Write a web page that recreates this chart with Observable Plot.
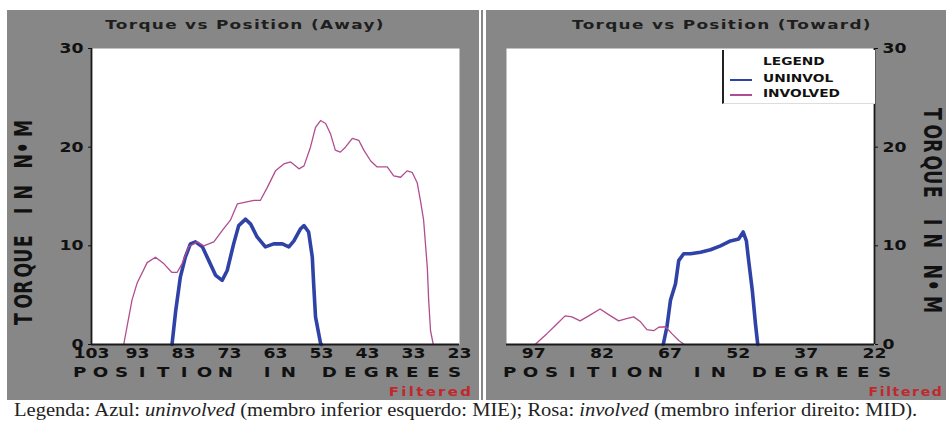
<!DOCTYPE html>
<html><head><meta charset="utf-8">
<script src="https://cdn.jsdelivr.net/npm/d3@7"></script>
<script src="https://cdn.jsdelivr.net/npm/@observablehq/plot@0.6"></script>
<style>
body{margin:0;background:#fff}
#root{position:relative;width:946px;height:421px;overflow:hidden;background:#fff;font-family:"DejaVu Sans",sans-serif}
.abs{position:absolute}
.gray{background:#878787}
.lbl{position:absolute;white-space:nowrap;font-weight:bold;line-height:1}
</style></head><body><div id="root"></div>
<script>
// ---- data ----
const yTicks = [0, 10, 20, 30];
const awayTicks = [103, 93, 83, 73, 63, 53, 43, 33, 23];
const towardTicks = [97, 82, 67, 52, 37, 22];
const seriesNames = ["UNINVOL", "INVOLVED"];

const awayUninvPos = [85.5, 84.7, 83.7, 82.6, 81.5, 80.4, 78.9, 77.5, 76.0, 74.6, 73.5, 72.1, 71.0, 69.5, 68.4, 67.0, 65.2, 63.4, 61.5, 60.1, 59.0, 57.6, 56.8, 55.8, 55.0, 54.7, 54.3, 53.2, 53.0];
const awayUninvTorque = [0, 3.4, 6.8, 8.85, 10.2, 10.4, 9.9, 8.5, 7.0, 6.5, 7.5, 10.2, 12.05, 12.7, 12.2, 10.9, 9.9, 10.2, 10.2, 9.9, 10.5, 11.7, 12.05, 11.4, 8.85, 6.1, 2.8, 0.1, 0];

const awayInvPos = [96, 94.2, 93.1, 90.9, 89.1, 87.3, 85.5, 84.4, 83.3, 81.9, 80.0, 78.6, 76.4, 74.6, 72.8, 71.3, 67.7, 66.3, 64.8, 63.0, 61.2, 59.7, 57.9, 56.8, 55.4, 54.3, 53.2, 52.1, 51.0, 50.0, 48.9, 47.8, 46.3, 44.9, 43.8, 42.3, 40.9, 38.7, 37.3, 35.8, 34.4, 33.3, 32.2, 31.5, 30.8, 30.0, 29.7, 29.3, 28.7];
const awayInvTorque = [0, 4.5, 6.2, 8.3, 8.85, 8.2, 7.3, 7.3, 8.2, 9.9, 10.4, 10.0, 10.4, 11.55, 12.6, 14.25, 14.6, 14.6, 15.9, 17.6, 18.3, 18.5, 17.8, 18.1, 20.0, 22.0, 22.7, 22.4, 21.3, 19.7, 19.5, 20.0, 20.9, 20.7, 19.7, 18.6, 18.0, 18.0, 17.1, 16.95, 17.6, 17.45, 16.4, 14.6, 12.6, 7.8, 4.5, 1.4, 0];

const towardUninvPos = [68.5, 67.7, 66.9, 65.8, 65.1, 64.0, 62.5, 60.3, 58.1, 55.9, 53.7, 51.9, 50.9, 50.2, 49.7, 48.9, 48.2, 47.7];
const towardUninvTorque = [0, 1.75, 4.5, 6.15, 8.5, 9.2, 9.2, 9.35, 9.6, 10.0, 10.5, 10.7, 11.4, 10.5, 8.5, 5.5, 2.1, 0];

const towardInvPos = [96.7, 94.1, 92.3, 90.1, 88.6, 86.8, 84.9, 82.4, 80.1, 78.3, 76.8, 75.0, 73.5, 72.1, 70.6, 69.5, 68.0, 66.6, 65.1, 64.0];
const towardInvTorque = [0, 1.1, 1.9, 2.9, 2.8, 2.4, 2.9, 3.6, 2.9, 2.4, 2.6, 2.8, 2.3, 1.5, 1.4, 1.75, 1.8, 1.1, 0.4, 0.05];

const BLUE = "#2f43a7", PINK = "#b04d8f";

const root = document.getElementById("root");
function add(html){ root.insertAdjacentHTML("beforeend", html); }

// gray panels
add(`<div class="abs gray" style="left:7px;top:10px;width:472px;height:390px"></div>`);
add(`<div class="abs gray" style="left:481px;top:10px;width:2px;height:390px"></div>`);
add(`<div class="abs gray" style="left:486px;top:10px;width:460px;height:390px"></div>`);

function rows(pos, tq){ return pos.map((p,i)=>({pos:p, torque:tq[i]})); }

function panel({left, width, marginLeft, marginRight, domain, ticks, anchor, axisAt, uninv, inv}){
  const svg = Plot.plot({
    width, height: 390, marginTop: 38, marginBottom: 56, marginLeft, marginRight,
    style: {background: "transparent", fontFamily: "DejaVu Sans", fontSize: "14px", fontWeight: "bold", color: "#111", overflow: "visible"},
    x: {domain}, y: {domain: [0, 30]},
    marks: [
      Plot.frame({fill: "white", stroke: "none"}),
      Plot.line(uninv, {x: "pos", y: "torque", stroke: BLUE, strokeWidth: 3.6, strokeLinejoin: "round"}),
      Plot.line(inv, {x: "pos", y: "torque", stroke: PINK, strokeWidth: 1.3, strokeLinejoin: "round"}),
      Plot.ruleY([0], {stroke: "#1a1a1a", strokeWidth: 2}),
      Plot.ruleX([axisAt], {stroke: "#1a1a1a", strokeWidth: 1.8}),
      Plot.axisX({ticks, tickSize: 0, tickPadding: 4, label: null, tickFormat: d => String(d)}),
      Plot.axisY({anchor, ticks: yTicks, tickSize: 3, tickPadding: 5, label: null})
    ]
  });
  svg.style.position = "absolute";
  svg.style.left = left + "px";
  svg.style.top = "10px";
  root.appendChild(svg);
  svg.querySelectorAll('g[aria-label$="tick label"] text').forEach(t => {
    const n = t.textContent.length;
    t.setAttribute("textLength", n * 12);
    t.setAttribute("lengthAdjust", "spacingAndGlyphs");
  });
}

panel({left: 7, width: 472, marginLeft: 84, marginRight: 20, domain: [103, 23], ticks: awayTicks, anchor: "left", axisAt: 103,
  uninv: rows(awayUninvPos, awayUninvTorque), inv: rows(awayInvPos, awayInvTorque)});
panel({left: 486, width: 460, marginLeft: 20, marginRight: 72, domain: [103, 22], ticks: towardTicks, anchor: "right", axisAt: 22,
  uninv: rows(towardUninvPos, towardUninvTorque), inv: rows(towardInvPos, towardInvTorque)});

// text helpers
function centered(text, cx, cy, css, sx){
  add(`<div class="lbl" style="left:${cx}px;top:${cy}px;transform:translate(-50%,-50%) scaleX(${sx});${css}">${text}</div>`);
}
function spaced(text, cx, cy, pitch, fs, sx, rot){
  const inner = [...text].map(c => `<span style="display:inline-block;width:${pitch}px;text-align:center"><span style="display:inline-block;transform:scaleX(${sx})">${c === " " ? "&nbsp;" : c}</span></span>`).join("");
  add(`<div class="lbl" style="left:${cx}px;top:${cy}px;font-size:${fs}px;color:#111;transform:translate(-50%,-50%) rotate(${rot}deg)">${inner}</div>`);
}

centered("Torque vs Position (Away)", 245, 24, "font-size:13px;letter-spacing:1px;color:#1e1e1e", 1.3);
centered("Torque vs Position (Toward)", 722, 24, "font-size:13px;letter-spacing:1px;color:#1e1e1e", 1.3);

spaced("POSITION IN DEGREES", 267, 372, 20.8, 14, 1.3, 0);
spaced("POSITION IN DEGREES", 697, 372, 20.8, 14, 1.3, 0);
spaced("TORQUE IN N•M", 24, 226, 15.6, 24, 0.72, -90);
spaced("TORQUE IN N•M", 932, 207, 15.6, 24, 0.72, 90);

centered("Filtered", 431, 391, "font-size:13px;letter-spacing:2px;color:#c0282d", 1.15);
centered("Filtered", 906, 391, "font-size:13px;letter-spacing:1.5px;color:#c0282d", 1.08);

// legend
add(`<div class="abs" style="left:722px;top:50px;width:151px;height:53px;background:#fff;border-left:2px solid #222;border-bottom:1px solid #ddd"></div>`);
add(`<div class="lbl" style="left:763px;top:56px;font-size:11px;color:#111;transform:scaleX(1.25);transform-origin:left">LEGEND</div>`);
add(`<div class="abs" style="left:730px;top:79px;width:22px;height:2px;background:${BLUE}"></div>`);
add(`<div class="lbl" style="left:763px;top:73px;font-size:11px;color:#111;transform:scaleX(1.25);transform-origin:left">${seriesNames[0]}</div>`);
add(`<div class="abs" style="left:730px;top:94px;width:22px;height:2px;background:${PINK}"></div>`);
add(`<div class="lbl" style="left:763px;top:88px;font-size:11px;color:#111;transform:scaleX(1.25);transform-origin:left">${seriesNames[1]}</div>`);

// caption
add(`<div class="abs" style="left:14px;top:399px;font-family:'Liberation Serif',serif;font-size:19px;line-height:21px;color:#222;white-space:nowrap;transform:scaleX(1.08);transform-origin:left">Legenda: Azul: <i>uninvolved</i> (membro inferior esquerdo: MIE); Rosa: <i>involved</i> (membro inferior direito: MID).</div>`);
</script></body></html>
